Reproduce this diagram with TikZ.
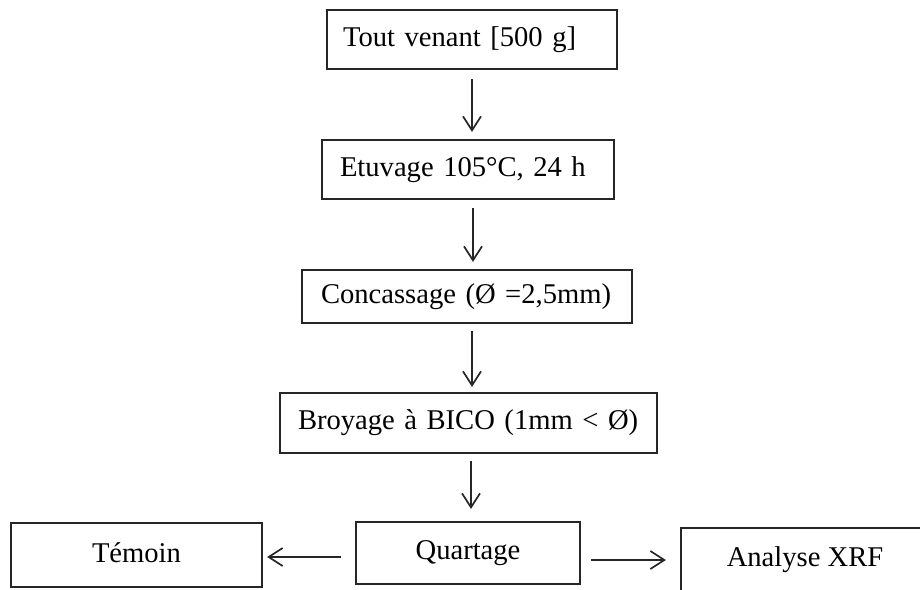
\documentclass[tikz,border=0pt]{standalone}
\usepackage{fontspec}
\setmainfont{Liberation Serif}
\usetikzlibrary{arrows.meta}
\begin{document}
\begin{tikzpicture}[x=0.5pt,y=-0.5pt,
  stepbox/.style={draw=black!85, line width=1.1pt, font=\fontsize{14.3pt}{16pt}\selectfont, inner ysep=0pt, align=left},
  centbox/.style={draw=black!85, line width=1.1pt, font=\fontsize{14.3pt}{16pt}\selectfont, inner sep=0pt, align=center},
  arr/.style={line width=0.85pt, black!85, -{Straight Barb[length=7pt,width=9pt,line width=0.85pt]}}]
\useasboundingbox (0,0) rectangle (920,589);
\clip (0,0) rectangle (920,589);
\node[stepbox, text width=129pt, inner xsep=8pt, minimum height=29.5pt] (b1) at (472,39.5) {Tout venant [500 g]};
\node[stepbox, text width=128pt, inner xsep=9pt, minimum height=29.5pt] (b2) at (468,169.5) {Etuvage 105°C, 24 h};
\node[stepbox, text width=146pt, inner xsep=9.5pt, minimum height=26.5pt] (b3) at (467,296.5) {Concassage (Ø =2,5mm)};
\node[stepbox, text width=170.5pt, inner xsep=9pt, minimum height=30pt] (b4) at (468.5,423) {Broyage à BICO (1mm < Ø)};
\node[centbox, minimum width=125.5pt, minimum height=32pt] (tem) at (136.5,555) {\raisebox{2pt}{Témoin}};
\node[centbox, minimum width=112pt, minimum height=31pt] (qua) at (468,553) {Quartage};
\node[centbox, minimum width=124pt, minimum height=32pt] (xrf) at (805,560) {Analyse XRF};
\coordinate (c1) at (472,0);
\coordinate (c2) at (473,0);
\coordinate (c3) at (472,0);
\coordinate (c4) at (471,0);
\coordinate (h1) at (0,557);
\coordinate (h2) at (0,560);
\draw[arr, shorten <=4.5pt, shorten >=3.5pt] (b1.south -| c1) -- (b2.north -| c1);
\draw[arr, shorten <=4pt, shorten >=3.5pt] (b2.south -| c2) -- (b3.north -| c2);
\draw[arr, shorten <=3.5pt, shorten >=2.5pt] (b3.south -| c3) -- (b4.north -| c3);
\draw[arr, shorten <=3.5pt, shorten >=6pt] (b4.south -| c4) -- (qua.north -| c4);
\draw[arr, shorten <=7pt, shorten >=2pt] (qua.west |- h1) -- (tem.east |- h1);
\draw[arr, shorten <=5pt, shorten >=7pt] (qua.east |- h2) -- (xrf.west |- h2);
\end{tikzpicture}
\end{document}
